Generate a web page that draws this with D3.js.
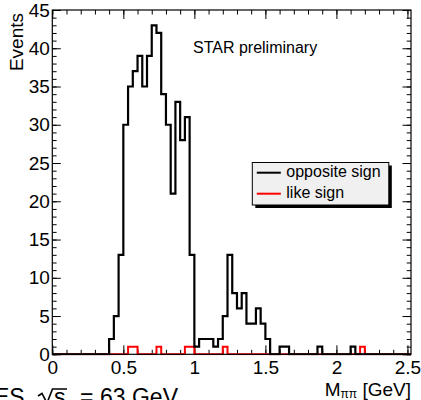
<!DOCTYPE html>
<html>
<head>
<meta charset="utf-8">
<script src="https://cdn.jsdelivr.net/npm/d3@7"></script>
<style>
  body { margin: 0; background: #fff; }
  text { font-family: "Liberation Sans", Arial, Helvetica, sans-serif; fill: #000; }
</style>
</head>
<body>
<script>
// histogram bins: width 1/30 GeV, starting at 0
const binWidth = 1 / 30;
const oppositeSign = [
  0, 0, 0, 0, 0, 0, 0, 0, 0, 0,
  0, 0, 2, 5, 13, 30, 35, 37, 39, 35,
  39, 43, 42, 34, 30, 21, 33, 28, 31, 13,
  1, 2, 2, 2, 1, 2, 5, 13, 8, 6,
  8, 4, 4, 6, 4, 2, 0, 0, 1, 1,
  0, 0, 0, 0, 0, 0, 1, 0, 0, 0,
  0, 0, 0, 1, 0, 0, 0, 0, 0, 0,
  0, 0, 0, 0, 0, 0
];
const likeSign = [
  0, 0, 0, 0, 0, 0, 0, 0, 0, 0,
  0, 0, 0, 0, 0, 0, 1, 1, 0, 0,
  0, 0, 1, 0, 0, 0, 0, 0, 1, 1,
  0, 0, 0, 0, 0, 0, 1, 0, 0, 0,
  0, 0, 0, 0, 0, 0, 0, 0, 0, 0,
  0, 0, 0, 0, 0, 0, 0, 0, 0, 0,
  0, 0, 0, 0, 0, 1, 0, 0, 0, 0,
  0, 0, 0, 0, 0, 0
];
const xMajor = [0, 0.5, 1, 1.5, 2, 2.5];
const xLabels = ['0', '0.5', '1', '1.5', '2', '2.5'];
const xMinor = d3.range(0, 2.51, 0.1);
const yMajor = [0, 5, 10, 15, 20, 25, 30, 35, 40, 45];
const yMinor = d3.range(0, 46, 1);
const legendItems = [
  { label: 'opposite sign', color: '#000' },
  { label: 'like sign', color: '#ff0000' }
];

const width = 421, height = 400;
const margin = { top: 10, right: 10, bottom: 45.7, left: 52.3 };
const iw = width - margin.left - margin.right;
const ih = height - margin.top - margin.bottom;

const svg = d3.select('body').append('svg')
  .attr('width', width)
  .attr('height', height);

const g = svg.append('g')
  .attr('transform', `translate(${margin.left},${margin.top})`);

const x = d3.scaleLinear().domain([0, 2.525]).range([0, iw]);
const y = d3.scaleLinear().domain([0, 45]).range([ih, 0]);

g.append('clipPath').attr('id', 'plotclip')
  .append('rect').attr('width', iw).attr('height', ih + 2).attr('y', -1);

// ticks (ROOT style, inside the frame, on all four sides)
function ticks(axis, vals, size, label) {
  const a = axis.tickValues(vals).tickSizeInner(-size).tickSizeOuter(0);
  if (!label) a.tickFormat('');
  return a;
}
g.append('g').attr('transform', `translate(0,${ih})`)
  .call(ticks(d3.axisBottom(x), xMajor, 9, true).tickFormat((d, i) => xLabels[i]).tickPadding(6.5));
g.append('g').attr('transform', `translate(0,${ih})`)
  .call(ticks(d3.axisBottom(x), xMinor, 4.5, false));
g.append('g').call(ticks(d3.axisTop(x), xMajor, 9, false));
g.append('g').call(ticks(d3.axisTop(x), xMinor, 4.5, false));

g.append('g').call(ticks(d3.axisLeft(y), yMajor, 8.5, true).tickPadding(2.5));
g.append('g').call(ticks(d3.axisLeft(y), yMinor, 4.3, false));
g.append('g').attr('transform', `translate(${iw},0)`).call(ticks(d3.axisRight(y), yMajor, 8.5, false));
g.append('g').attr('transform', `translate(${iw},0)`).call(ticks(d3.axisRight(y), yMinor, 4.3, false));

g.selectAll('.domain').remove();
g.selectAll('.tick line').attr('stroke', '#000').attr('stroke-width', 1);
g.selectAll('.tick text').style('font-size', '19px').attr('fill', '#000');

// step lines for the histograms
function stepPoints(vals) {
  const pts = vals.map((v, i) => [i * binWidth, v]);
  pts.push([vals.length * binWidth, vals[vals.length - 1]]);
  return pts;
}
const step = d3.line()
  .x(d => x(d[0]))
  .y(d => y(d[1]))
  .curve(d3.curveStepAfter);

const plot = g.append('g').attr('clip-path', 'url(#plotclip)');
plot.append('path')
  .attr('d', step(stepPoints(likeSign)))
  .attr('fill', 'none')
  .attr('stroke', legendItems[1].color)
  .attr('stroke-width', 2);
plot.append('path')
  .attr('d', step(stepPoints(oppositeSign)))
  .attr('fill', 'none')
  .attr('stroke', legendItems[0].color)
  .attr('stroke-width', 2.2);

// frame
g.append('rect')
  .attr('width', iw).attr('height', ih)
  .attr('fill', 'none').attr('stroke', '#000').attr('stroke-width', 1.2);

// axis titles
svg.append('text')
  .attr('transform', 'translate(23,13) rotate(-90)')
  .attr('text-anchor', 'end')
  .style('font-size', '19px')
  .text('Events');

const xt = svg.append('text')
  .attr('x', 411).attr('y', 396)
  .attr('text-anchor', 'end')
  .style('font-size', '19px');
xt.append('tspan').text('M');
xt.append('tspan').attr('dy', 1.5).style('font-size', '12px').text('ππ');
xt.append('tspan').attr('dy', -1.5).text(' [GeV]');

svg.append('text')
  .attr('x', 193).attr('y', 53.3)
  .style('font-size', '16px')
  .text('STAR preliminary');

// legend
const lg = svg.append('g').attr('transform', 'translate(252.3,162.5)');
lg.append('rect').attr('x', 3).attr('y', 3).attr('width', 136.5).attr('height', 42.5).attr('fill', '#000');
lg.append('rect').attr('width', 136.5).attr('height', 42.5)
  .attr('fill', '#f0f0f0').attr('stroke', '#000').attr('stroke-width', 1);
const li = lg.selectAll('.item').data(legendItems).enter().append('g')
  .attr('transform', (d, i) => `translate(0,${10.2 + i * 21})`);
li.append('line').attr('x1', 4.5).attr('x2', 28.5)
  .attr('stroke', d => d.color).attr('stroke-width', 2);
li.append('text').attr('x', 34).attr('y', 4.3)
  .style('font-size', '16px')
  .text(d => d.label);

// caption, cut off by the bottom edge as in the source
const cap = svg.append('g');
cap.append('text').attr('x', -6).attr('y', 404.5).style('font-size', '23px').text('ES');
cap.append('path')
  .attr('d', 'M38,396 L42,393.5 L47,403 L52.5,389 L67,389')
  .attr('fill', 'none').attr('stroke', '#000').attr('stroke-width', 1.6);
cap.append('text').attr('x', 54).attr('y', 404.5).style('font-size', '23px').text('s');
cap.append('text').attr('x', 80).attr('y', 404.5).style('font-size', '23px').text('=');
cap.append('text').attr('x', 100).attr('y', 404.5).style('font-size', '23px').text('63 GeV');
</script>
</body>
</html>
